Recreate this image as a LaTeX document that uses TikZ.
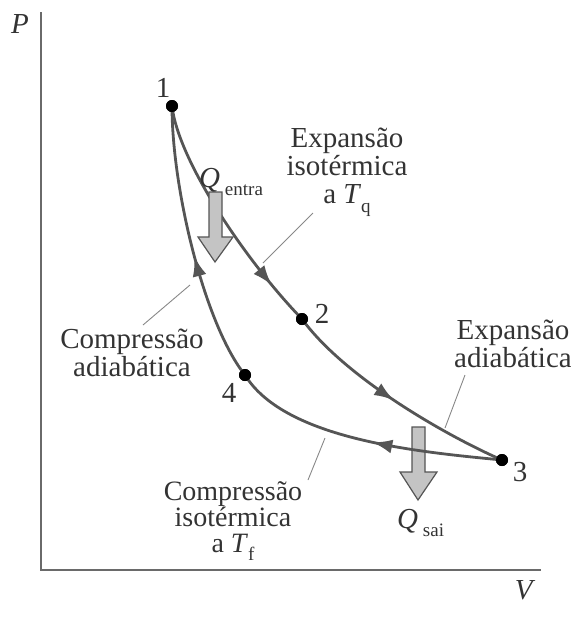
\documentclass[tikz,border=0pt]{standalone}
\usepackage{fontspec}
\setmainfont{Liberation Serif}
\usetikzlibrary{arrows.meta,decorations.markings}
\definecolor{curve}{HTML}{555555}
\definecolor{axis}{HTML}{6A6A6A}
\definecolor{txt}{HTML}{333333}
\definecolor{lead}{HTML}{888888}
\definecolor{heat}{HTML}{C4C4C4}
\newcommand{\subtx}[1]{\raisebox{-0.3em}{\fontsize{19}{19}\selectfont #1}}
\begin{document}
\begin{tikzpicture}[x=1pt,y=-1pt,
  lbl/.style={font=\fontsize{29}{28}\selectfont, text=txt, align=center, inner sep=0pt},
  lbltight/.style={font=\fontsize{28}{26}\selectfont, text=txt, align=center, inner sep=0pt},
  cyc/.style={draw=curve, line width=2.8pt},
  dot/.style={circle, fill=black, minimum size=12pt, inner sep=0pt},
  leader/.style={draw=lead, line width=0.9pt},
  axisline/.style={draw=axis, line width=1.8pt},
  heatarrow/.style={draw=curve, fill=heat, line width=1.2pt, line join=miter},
  midarrow/.style={postaction={decorate}, decoration={markings, mark=at position #1 with {\arrow[color=curve]{Latex[length=20pt,width=14pt]}}}}
]
\useasboundingbox (0,0) rectangle (571,630);

% axes
\coordinate (ytop) at (41,12);
\coordinate (orig) at (41,570);
\coordinate (xend) at (541,570);
\draw[axisline] (ytop) -- (orig) -- (xend);
\node[lbl] (P) at (20,24) {\textit{P}};
\node[lbl] (V) at (525,590) {\textit{V}};

% state points
\node[dot] (n1) at (172,106) {};
\node[dot] (n2) at (302,319) {};
\node[dot] (n3) at (502,460) {};
\node[dot] (n4) at (245,375) {};
\node[lbl] (l1) at (163,88) {1};
\node[lbl] (l2) at (322,314) {2};
\node[lbl] (l3) at (520,472) {3};
\node[lbl] (l4) at (229,393) {4};

% heat out arrow (below curves)
\draw[heatarrow] (412,427) -- (425,427) -- (425,472) -- (437,472) -- (418,500) -- (400,472) -- (412,472) -- cycle;

% cycle
\draw[cyc, midarrow=0.82] (n1.center) .. controls (178,160) and (245,260) .. (n2.center);
\draw[cyc, midarrow=0.5] (n2.center) .. controls (345,378) and (447,436) .. (n3.center);
\draw[cyc, midarrow=0.47] (n3.center) .. controls (420,452) and (285,440) .. (n4.center);
\draw[cyc, midarrow=0.46] (n4.center) .. controls (205,325) and (172,190) .. (n1.center);
\node[dot] at (n1) {};
\node[dot] at (n2) {};
\node[dot] at (n3) {};
\node[dot] at (n4) {};

% heat in arrow
\draw[heatarrow] (209,192) -- (222,192) -- (222,237) -- (233,237) -- (215,262) -- (198,237) -- (209,237) -- cycle;

% heat labels
\node[lbl, anchor=base west] (qin) at (199,187) {\textit{Q}\,\subtx{entra}};
\node[lbl, anchor=base west] (qout) at (397,528) {\textit{Q}\,\subtx{sai}};

% process labels
\node[lbl] (isoexp) at (347,172) {Expansão\\isotérmica\\a \textit{T}\subtx{q}};
\node[lbl] (adexp) at (513,344) {Expansão\\adiabática};
\node[lbl] (adcomp) at (132,353) {Compressão\\adiabática};
\node[lbltight] (isocomp) at (233,521) {Compressão\\isotérmica\\a \textit{T}\subtx{f}};

% leaders
\coordinate (e1) at (263,263);
\coordinate (s1) at (313,213);
\coordinate (e2) at (445,428);
\coordinate (s2) at (465,375);
\coordinate (e3) at (190,285);
\coordinate (s3) at (143,325);
\coordinate (e4) at (325,438);
\coordinate (s4) at (308,480);
\draw[leader] (s1) -- (e1);
\draw[leader] (s2) -- (e2);
\draw[leader] (s3) -- (e3);
\draw[leader] (s4) -- (e4);
\end{tikzpicture}
\end{document}
